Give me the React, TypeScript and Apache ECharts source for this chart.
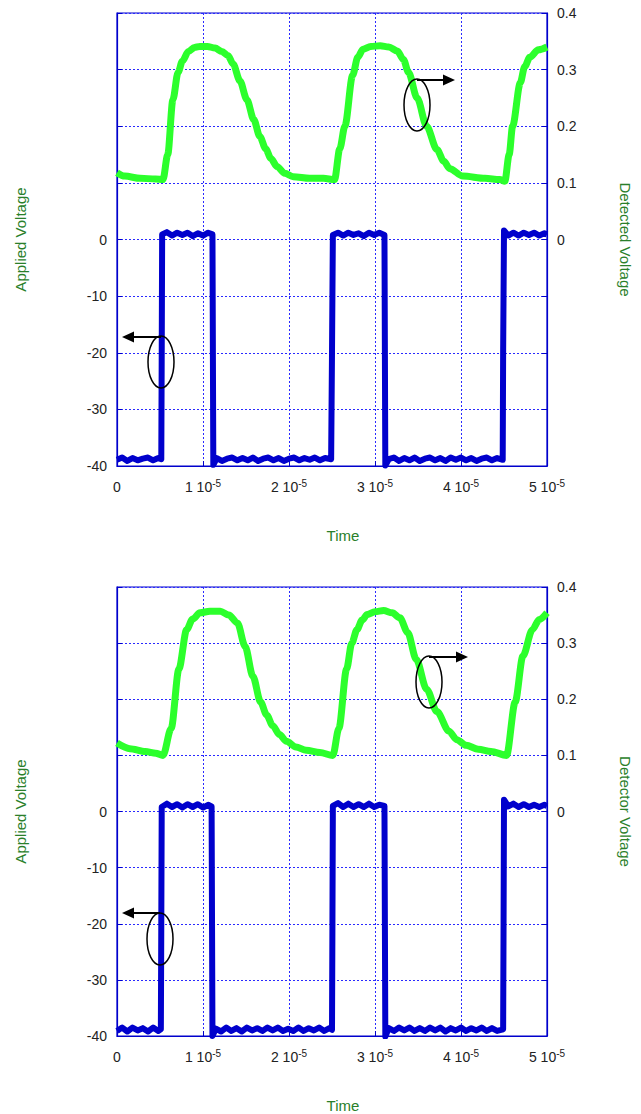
import React, { useEffect, useRef } from "react";
import * as echarts from "echarts";

// time in microseconds (axis labelled in units of 10^-5 s)
const X_TICKS = [0, 10, 20, 30, 40, 50];

// Top panel – applied voltage (noisy square wave)
const topApplied: [number, number][] = [
  [0, -38.9], [0.6, -38.5], [1.2, -39.1], [1.8, -38.6], [2.4, -39.0], [3.0, -38.7], [3.6, -38.5],
  [4.2, -39.0], [4.8, -38.6], [5.15, -38.8], [5.2, -20], [5.25, 0.9],
  [5.8, 1.3], [6.4, 0.7], [7.0, 1.2], [7.6, 0.8], [8.2, 1.2], [8.8, 0.6], [9.4, 1.1], [10.0, 0.7],
  [10.6, 1.2], [11.1, 0.9], [11.15, -20], [11.2, -39.8],
  [11.6, -38.6], [12.2, -39.1], [12.8, -38.7], [13.4, -38.5], [14.0, -39.0], [14.6, -38.6],
  [15.2, -39.0], [15.8, -38.5], [16.4, -39.1], [17.0, -38.7], [17.6, -38.5], [18.2, -39.0],
  [18.8, -38.6], [19.4, -39.1], [20.0, -38.7], [20.6, -38.5], [21.2, -39.0], [21.8, -38.6],
  [22.4, -38.9], [23.0, -38.5], [23.6, -39.0], [24.2, -38.6], [24.9, -38.8], [25.0, -20], [25.1, 0.8],
  [25.7, 1.2], [26.3, 0.7], [26.9, 1.2], [27.5, 0.8], [28.1, 1.1], [28.7, 0.6], [29.3, 1.2],
  [29.9, 0.8], [30.5, 1.2], [31.1, 0.8], [31.15, -20], [31.2, -39.9],
  [31.6, -38.8], [32.2, -38.5], [32.8, -39.1], [33.4, -38.6], [34.0, -39.0], [34.6, -38.5],
  [35.2, -39.1], [35.8, -38.7], [36.4, -38.5], [37.0, -39.0], [37.6, -38.6], [38.2, -39.1],
  [38.8, -38.5], [39.4, -38.9], [40.0, -38.5], [40.6, -39.0], [41.2, -38.6], [41.8, -39.1],
  [42.4, -38.7], [43.0, -38.5], [43.6, -39.0], [44.2, -38.6], [44.85, -38.9], [44.9, -20], [45.0, 1.6],
  [45.5, 0.7], [46.1, 1.2], [46.7, 0.7], [47.3, 1.2], [47.9, 0.8], [48.5, 1.2], [49.1, 0.7],
  [49.7, 1.1], [50, 0.9],
];
const topDetected: [number, number][] = [
  [0, 0.118], [0.9, 0.112], [2.7, 0.108], [4.5, 0.107], [5.35, 0.106], [5.9, 0.15], [6.5, 0.247],
  [7.1, 0.295], [7.6, 0.315], [8.3, 0.332], [9.0, 0.339], [9.65, 0.341], [10.5, 0.341],
  [11.4, 0.338], [12.2, 0.332], [12.9, 0.325], [13.5, 0.31], [14.3, 0.28], [15.1, 0.247],
  [15.9, 0.212], [16.6, 0.182], [17.3, 0.16], [17.9, 0.143], [18.6, 0.129], [19.5, 0.117],
  [20.5, 0.111], [22.4, 0.108], [24.0, 0.108], [25.3, 0.106], [25.9, 0.16], [26.5, 0.2],
  [27.4, 0.29], [28.0, 0.322], [28.6, 0.336], [29.5, 0.341], [30.6, 0.342], [31.6, 0.34],
  [32.6, 0.333], [33.3, 0.318], [33.9, 0.295], [34.9, 0.25], [36.0, 0.2], [37.2, 0.159],
  [38.0, 0.138], [38.7, 0.125], [40.2, 0.112], [42.8, 0.108], [44.5, 0.106], [45.1, 0.103],
  [45.6, 0.15], [46.0, 0.2], [46.9, 0.277], [47.4, 0.305], [48.0, 0.322], [49.0, 0.335], [50, 0.34],
];

// Bottom panel
const bottomApplied: [number, number][] = [
  [0, -39.1], [0.6, -38.5], [1.2, -39.2], [1.8, -38.5], [2.4, -39.0], [3.0, -38.6], [3.6, -39.2],
  [4.2, -38.5], [4.8, -39.1], [5.1, -38.8], [5.15, -20], [5.2, 0.8],
  [5.8, 1.4], [6.4, 0.8], [7.0, 1.3], [7.6, 0.7], [8.2, 1.3], [8.8, 0.8], [9.4, 1.3], [10.0, 0.7],
  [10.6, 1.2], [11.0, 0.9], [11.05, -20], [11.1, -40.0],
  [11.5, -38.7], [12.1, -39.2], [12.7, -38.5], [13.3, -39.1], [13.9, -38.6], [14.5, -39.2],
  [15.1, -38.5], [15.7, -39.0], [16.3, -38.6], [16.9, -39.1], [17.5, -38.5], [18.1, -39.0],
  [18.7, -38.5], [19.3, -39.1], [19.9, -38.7], [20.5, -39.1], [21.1, -38.5], [21.7, -39.1],
  [22.3, -38.6], [22.9, -39.0], [23.5, -38.5], [24.1, -39.1], [24.7, -38.6], [25.0, -38.9],
  [25.05, -20], [25.1, 1.0],
  [25.7, 1.5], [26.3, 0.8], [26.9, 1.4], [27.5, 0.8], [28.1, 1.3], [28.7, 0.8], [29.3, 1.4],
  [29.9, 0.8], [30.5, 1.2], [31.1, 1.0], [31.15, -20], [31.2, -40.1],
  [31.6, -38.6], [32.2, -39.1], [32.8, -38.5], [33.4, -39.0], [34.0, -38.5], [34.6, -39.1],
  [35.2, -38.6], [35.8, -39.1], [36.4, -38.5], [37.0, -39.0], [37.6, -38.5], [38.2, -39.2],
  [38.8, -38.6], [39.4, -39.0], [40.0, -38.5], [40.6, -39.1], [41.2, -38.6], [41.8, -39.0],
  [42.4, -38.5], [43.0, -39.1], [43.6, -38.6], [44.2, -39.1], [44.9, -38.8], [44.95, -20], [45.0, 2.1],
  [45.5, 0.9], [46.1, 1.4], [46.7, 0.8], [47.3, 1.3], [47.9, 0.8], [48.5, 1.2], [49.1, 0.8],
  [49.7, 1.2], [50, 1.0],
];
const bottomDetected: [number, number][] = [
  [0, 0.122], [1.5, 0.112], [3.3, 0.107], [4.5, 0.104], [5.35, 0.1], [6.3, 0.148], [7.2, 0.254],
  [8.1, 0.324], [8.8, 0.343], [9.65, 0.354], [10.8, 0.357], [12.0, 0.357], [13.0, 0.35],
  [14.0, 0.336], [14.9, 0.294], [15.8, 0.241], [16.7, 0.195], [17.4, 0.172], [18.1, 0.153],
  [18.9, 0.137], [19.7, 0.125], [20.8, 0.115], [22.0, 0.109], [23.6, 0.105], [25.1, 0.1],
  [25.8, 0.148], [26.7, 0.254], [27.3, 0.3], [27.9, 0.324], [28.5, 0.341], [29.1, 0.351],
  [30.0, 0.356], [31.0, 0.358], [32.0, 0.354], [32.9, 0.345], [33.8, 0.319], [34.8, 0.271],
  [36.0, 0.218], [37.2, 0.178], [38.6, 0.143], [39.5, 0.128], [40.6, 0.118], [42.0, 0.111],
  [43.5, 0.107], [45.3, 0.1], [46.3, 0.195], [47.2, 0.277], [48.3, 0.324], [49.1, 0.342], [50, 0.354],
];

const BLUE = "#0000cc";
const GRID_BLUE = "#2a2aff";
const GREEN = "#2cff2c";
const TITLE_GREEN = "#2a7f2a";
const FONT = "Liberation Sans, Arial, sans-serif";

function xLabel(v: number) {
  if (Math.abs(v) < 1e-9) return "0";
  return `${Math.round(v / 10)} 10{s|-5}`;
}

function arrow(x1: number, y: number, tip: number) {
  const dir = tip > x1 ? 1 : -1;
  const base = tip - dir * 12;
  return [
    { type: "line", shape: { x1, y1: y, x2: base, y2: y }, style: { stroke: "#000", lineWidth: 2 }, z: 100 },
    { type: "polygon", shape: { points: [[tip, y], [base, y - 5.5], [base, y + 5.5]] }, style: { fill: "#000" }, z: 100 },
  ];
}
function ellipse(cx: number, cy: number) {
  return { type: "ellipse", shape: { cx, cy, rx: 13, ry: 26 }, style: { fill: "none", stroke: "#000", lineWidth: 1.5 }, z: 100 };
}

export default function App() {
  const ref = useRef<HTMLDivElement>(null);
  useEffect(() => {
    if (!ref.current) return;
    const chart = echarts.init(ref.current, undefined, { renderer: "svg" });
    const grids = [
      { left: 117, top: 13, width: 430, height: 453 },
      { left: 117, top: 587, width: 430, height: 453 },
    ];
    const xAxes = [0, 1].map((i) => ({
      type: "value",
      gridIndex: i,
      min: X_TICKS[0],
      max: X_TICKS[X_TICKS.length - 1],
      interval: X_TICKS[1] - X_TICKS[0],
      name: "Time",
      nameLocation: "middle",
      nameGap: 62,
      nameTextStyle: { color: TITLE_GREEN, fontSize: 15, fontFamily: FONT, padding: [0, 0, 0, 22] },
      axisLine: { show: true, onZero: false, lineStyle: { color: BLUE, width: 1.2 } },
      axisTick: { show: true, inside: true, length: 5, lineStyle: { color: BLUE } },
      axisLabel: {
        formatter: xLabel,
        color: "#222",
        fontSize: 14,
        fontFamily: FONT,
        margin: 12,
        lineHeight: 18,
        rich: { s: { fontSize: 10, lineHeight: 10, verticalAlign: "top", color: "#222", fontFamily: FONT } },
      },
      splitLine: { show: true, lineStyle: { color: GRID_BLUE, type: [2, 2], width: 1 } },
    }));
    const yAxes: any[] = [];
    [0, 1].forEach((i) => {
      yAxes.push({
        type: "value",
        gridIndex: i,
        position: "left",
        min: -40,
        max: 40,
        interval: 10,
        name: "Applied Voltage",
        nameLocation: "middle",
        nameRotate: 90,
        nameGap: 89,
        nameTextStyle: { color: TITLE_GREEN, fontSize: 15, fontFamily: FONT },
        axisLine: { show: true, onZero: false, lineStyle: { color: BLUE, width: 1.2 } },
        axisTick: { show: true, inside: true, length: 5, lineStyle: { color: BLUE } },
        axisLabel: {
          formatter: (v: number) => (v <= 0 ? String(Math.round(v)) : ""),
          color: "#222",
          fontSize: 14,
          fontFamily: FONT,
          margin: 10,
        },
        splitLine: { show: true, lineStyle: { color: GRID_BLUE, type: [2, 2], width: 1.2 } },
      });
      yAxes.push({
        type: "value",
        gridIndex: i,
        position: "right",
        min: -0.4,
        max: 0.4,
        interval: 0.1,
        name: i === 0 ? "Detected Voltage" : "Detector Voltage",
        nameLocation: "middle",
        nameRotate: -90,
        nameGap: 71,
        nameTextStyle: { color: TITLE_GREEN, fontSize: 15, fontFamily: FONT },
        axisLine: { show: true, onZero: false, lineStyle: { color: BLUE, width: 1.2 } },
        axisTick: { show: true, inside: true, length: 5, lineStyle: { color: BLUE } },
        axisLabel: {
          formatter: (v: number) => {
            const r = Math.round(v * 10) / 10;
            return r >= 0 ? (r === 0 ? "0" : r.toFixed(1)) : "";
          },
          color: "#222",
          fontSize: 14,
          fontFamily: FONT,
          margin: 10,
        },
        splitLine: { show: false },
      });
    });
    const lineSeries = (data: [number, number][], xi: number, yi: number, color: string, width: number, smooth: number) => ({
      type: "line",
      xAxisIndex: xi,
      yAxisIndex: yi,
      data,
      showSymbol: false,
      symbol: "none",
      smooth,
      smoothMonotone: "x",
      lineStyle: { color, width, join: "round" },
      itemStyle: { color },
      z: 3,
    });
    chart.setOption({
      animation: false,
      backgroundColor: "#fff",
      grid: grids.map((g) => ({ ...g, show: true, borderColor: BLUE, borderWidth: 1.2, backgroundColor: "transparent" })),
      xAxis: xAxes,
      yAxis: yAxes,
      series: [
        lineSeries(topDetected, 0, 1, GREEN, 7, 0.3),
        lineSeries(topApplied, 0, 0, BLUE, 6, 0),
        lineSeries(bottomDetected, 1, 3, GREEN, 7, 0.3),
        lineSeries(bottomApplied, 1, 2, BLUE, 6, 0),
      ],
      graphic: [
        ellipse(161, 362), ...arrow(161, 337, 122),
        ellipse(417, 105), ...arrow(417, 80, 455),
        ellipse(160, 939), ...arrow(160, 913, 122),
        ellipse(429, 682), ...arrow(429, 657, 468),
      ],
    });
    return () => chart.dispose();
  }, []);
  return <div ref={ref} style={{ position: "absolute", left: 0, top: 0, width: 641, height: 1114 }} />;
}
